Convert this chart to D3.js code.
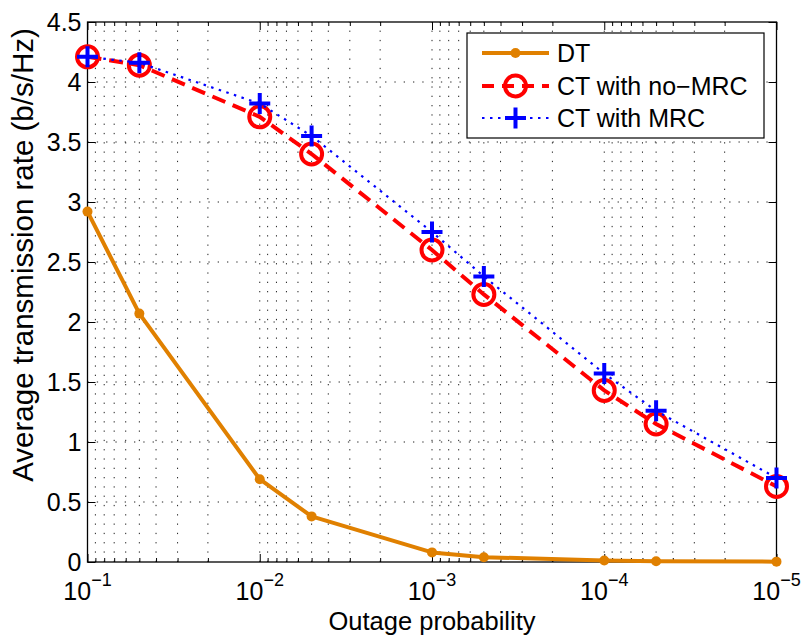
<!DOCTYPE html>
<html>
<head>
<meta charset="utf-8">
<script src="https://cdn.jsdelivr.net/npm/d3@7"></script>
<style>
  html, body { margin: 0; padding: 0; background: #fff; }
  svg { display: block; font-family: "Liberation Sans", Arial, Helvetica, sans-serif; }
</style>
</head>
<body>
<svg id="chart" width="802" height="637"></svg>
<script>
// ---- data ----
const outage   = [1e-1, 5e-2, 1e-2, 5e-3, 1e-3, 5e-4, 1e-4, 5e-5, 1e-5];
const dtRate   = [2.92, 2.07, 0.69, 0.38, 0.08, 0.04, 0.012, 0.006, 0.003];
const ctNoMrc  = [4.21, 4.14, 3.71, 3.40, 2.60, 2.23, 1.43, 1.15, 0.63];
const ctMrc    = [4.21, 4.16, 3.82, 3.55, 2.75, 2.38, 1.57, 1.26, 0.70];
const xMajorTicks = [1e-1, 1e-2, 1e-3, 1e-4, 1e-5];
const xTickExponents = ["−1", "−2", "−3", "−4", "−5"];
const yTicks = [0, 0.5, 1, 1.5, 2, 2.5, 3, 3.5, 4, 4.5];
const yTickLabels = ["0", "0.5", "1", "1.5", "2", "2.5", "3", "3.5", "4", "4.5"];
const seriesNames = ["DT", "CT with no−MRC", "CT with MRC"];
const xLabel = "Outage probability";
const yLabel = "Average transmission rate (b/s/Hz)";

// ---- layout ----
const L = 87.5, R = 776.5, T = 22, B = 562;
const svg = d3.select("#chart");
const x = d3.scaleLog().domain([1e-1, 1e-5]).range([L, R]);
const y = d3.scaleLinear().domain([0, 4.5]).range([B, T]);

// minor ticks (2..9 per decade)
const xMinorTicks = [];
for (let e = -5; e < -1; e++) for (let k = 2; k <= 9; k++) xMinorTicks.push(k * Math.pow(10, e));

const fontSize = 25;

// ---- grid ----
const grid = svg.append("g").attr("stroke", "#222").attr("stroke-width", 1)
  .attr("stroke-dasharray", "1.3 8").attr("fill", "none");
grid.selectAll("line.vx").data(xMajorTicks.concat(xMinorTicks)).enter().append("line")
  .attr("x1", d => x(d)).attr("x2", d => x(d)).attr("y1", B).attr("y2", T);
grid.selectAll("line.hy").data(yTicks.slice(1, -1)).enter().append("line")
  .attr("y1", d => y(d)).attr("y2", d => y(d)).attr("x1", L).attr("x2", R);

// ---- axes ----
function styleAxis(g) {
  g.select(".domain").remove();
  g.selectAll(".tick line").attr("stroke", "#000").attr("stroke-width", 1);
}
svg.append("g").attr("transform", `translate(0,${B})`)
  .call(d3.axisBottom(x).tickValues(xMajorTicks).tickSize(-8).tickFormat(() => "")).call(styleAxis);
svg.append("g").attr("transform", `translate(0,${B})`)
  .call(d3.axisBottom(x).tickValues(xMinorTicks).tickSize(-4).tickFormat(() => "")).call(styleAxis);
svg.append("g").attr("transform", `translate(0,${T})`)
  .call(d3.axisTop(x).tickValues(xMajorTicks).tickSize(-8).tickFormat(() => "")).call(styleAxis);
svg.append("g").attr("transform", `translate(0,${T})`)
  .call(d3.axisTop(x).tickValues(xMinorTicks).tickSize(-4).tickFormat(() => "")).call(styleAxis);
const yAxisG = svg.append("g").attr("transform", `translate(${L},0)`)
  .call(d3.axisLeft(y).tickValues(yTicks).tickSize(-8).tickPadding(6)
    .tickFormat((d, i) => yTickLabels[i])).call(styleAxis);
yAxisG.selectAll("text").attr("font-size", fontSize).attr("fill", "#000")
  .attr("font-family", "Liberation Sans, Arial, sans-serif");
svg.append("g").attr("transform", `translate(${R},0)`)
  .call(d3.axisRight(y).tickValues(yTicks).tickSize(-8).tickFormat(() => "")).call(styleAxis);

// x tick labels with superscripts
const xl = svg.append("g");
xMajorTicks.forEach((v, i) => {
  const t = xl.append("text").attr("x", x(v)).attr("y", 600)
    .attr("text-anchor", "middle").attr("font-size", fontSize).attr("fill", "#000");
  t.append("tspan").text("10");
  t.append("tspan").attr("dy", -14).attr("font-size", 18).text(xTickExponents[i]);
});

// box
svg.append("rect").attr("x", L).attr("y", T).attr("width", R - L).attr("height", B - T)
  .attr("fill", "none").attr("stroke", "#000").attr("stroke-width", 1.3);

// axis labels
svg.append("text").attr("x", (L + R) / 2).attr("y", 630).attr("text-anchor", "middle")
  .attr("font-size", fontSize + 0.5).attr("fill", "#000").text(xLabel);
svg.append("text").attr("transform", `translate(33,255) rotate(-90)`)
  .attr("text-anchor", "middle").attr("font-size", 29.5).attr("fill", "#000").text(yLabel);

// ---- series ----
const orange = "#e08000", red = "#ff0000", blue = "#0000ff";
const line = d3.line().x(d => x(d[0])).y(d => y(d[1]));
const zip = arr => outage.map((o, i) => [o, arr[i]]);

svg.append("path").datum(zip(dtRate)).attr("d", line).attr("fill", "none")
  .attr("stroke", orange).attr("stroke-width", 4).attr("stroke-linejoin", "round");
svg.selectAll("circle.dt").data(zip(dtRate)).enter().append("circle")
  .attr("cx", d => x(d[0])).attr("cy", d => y(d[1])).attr("r", 5).attr("fill", orange);

svg.append("path").datum(zip(ctNoMrc)).attr("d", line).attr("fill", "none")
  .attr("stroke", red).attr("stroke-width", 4).attr("stroke-dasharray", "14 8");
svg.selectAll("circle.ct").data(zip(ctNoMrc)).enter().append("circle")
  .attr("cx", d => x(d[0])).attr("cy", d => y(d[1])).attr("r", 10.5)
  .attr("fill", "none").attr("stroke", red).attr("stroke-width", 4);

svg.append("path").datum(zip(ctMrc)).attr("d", line).attr("fill", "none")
  .attr("stroke", blue).attr("stroke-width", 2.2).attr("stroke-dasharray", "2.5 5.5");
const plus = (g, cx, cy, s) => {
  g.append("path").attr("d", `M${cx - s},${cy}H${cx + s}M${cx},${cy - s}V${cy + s}`)
    .attr("stroke", blue).attr("stroke-width", 4).attr("fill", "none");
};
const pg = svg.append("g");
zip(ctMrc).forEach(d => plus(pg, x(d[0]), y(d[1]), 10.5));

// ---- legend ----
const lg = svg.append("g");
lg.append("rect").attr("x", 467).attr("y", 33).attr("width", 297).attr("height", 105)
  .attr("fill", "#fff").attr("stroke", "#000").attr("stroke-width", 1.2);
const rows = [53, 86, 118];
const lx1 = 482, lx2 = 549, lm = 515.5;
// DT
lg.append("line").attr("x1", lx1).attr("x2", lx2).attr("y1", rows[0]).attr("y2", rows[0])
  .attr("stroke", orange).attr("stroke-width", 4);
lg.append("circle").attr("cx", lm).attr("cy", rows[0]).attr("r", 5).attr("fill", orange);
// no-MRC
lg.append("line").attr("x1", lx1).attr("x2", lx2).attr("y1", rows[1]).attr("y2", rows[1])
  .attr("stroke", red).attr("stroke-width", 4).attr("stroke-dasharray", "12 8");
lg.append("circle").attr("cx", lm).attr("cy", rows[1]).attr("r", 10.5)
  .attr("fill", "none").attr("stroke", red).attr("stroke-width", 4);
// MRC
lg.append("line").attr("x1", lx1).attr("x2", lx2).attr("y1", rows[2]).attr("y2", rows[2])
  .attr("stroke", blue).attr("stroke-width", 2.2).attr("stroke-dasharray", "2.5 5.5");
plus(lg, lm, rows[2], 10.5);
seriesNames.forEach((n, i) => {
  lg.append("text").attr("x", 557).attr("y", rows[i]).attr("dy", "0.35em")
    .attr("font-size", fontSize).attr("fill", "#000").text(n);
});
</script>
</body>
</html>
